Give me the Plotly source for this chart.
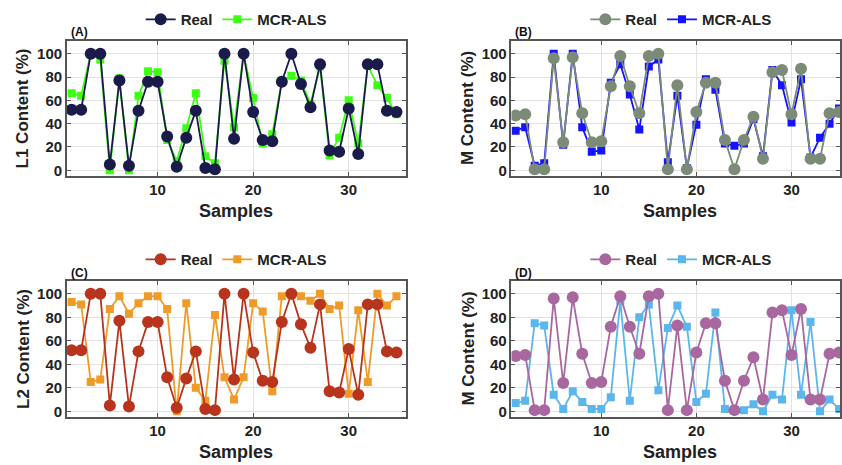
import plotly.graph_objects as go

samples = list(range(1, 36))

# Panel A / C real (L1 = L2 real values)
l_real = [52, 52, 100, 100, 5, 77, 4, 51, 76, 76, 29, 3, 28, 51, 2, 1, 100, 27, 100, 50,
          26, 25, 76, 100, 74, 54, 91, 17, 16, 53, 14, 91, 91, 51, 50]
l1_mcr = [66, 64, 100, 95, 0, 79, 0, 64, 85, 84, 26, 8, 36, 66, 12, 6, 94, 37, 100, 62,
          23, 31, 77, 81, 77, 57, 89, 13, 28, 60, 23, 90, 73, 62, 48]
l2_mcr = [93, 91, 25, 27, 87, 98, 83, 92, 98, 98, 87, 0, 92, 20, 9, 82, 29, 10, 29, 92,
          85, 17, 98, 99, 98, 94, 100, 87, 90, 15, 86, 25, 100, 90, 98]

# Panel B / D real (M values)
m_real = [47, 48, 1, 1, 96, 24, 97, 49, 24, 25, 72, 98, 72, 49, 98, 100, 1, 73, 1, 50,
          75, 75, 26, 1, 26, 46, 10, 84, 86, 48, 87, 10, 10, 49, 50]
mb_mcr = [34, 37, 4, 6, 100, 22, 100, 37, 16, 17, 75, 91, 65, 35, 89, 95, 7, 64, 2, 39,
          78, 69, 23, 21, 23, 44, 12, 86, 73, 41, 78, 11, 28, 40, 53]
md_mcr = [7, 9, 75, 73, 14, 2, 17, 8, 2, 2, 12, 94, 9, 80, 91, 18, 71, 90, 72, 8,
          15, 84, 2, 1, 1, 6, 0, 14, 10, 86, 14, 76, 0, 10, 2]

x_ticks = [10, 20, 30]
y_ticks = [0, 20, 40, 60, 80, 100]

W, H = 842, 465
FONT = "Liberation Sans"

panels = [
    # label, real, mcr, real color, mcr color, ytitle, x0,x1,y0,y1 (px), xrange
    ("(A)", l_real, l1_mcr, "#1b1b4b", "#3cff14", "L1 Content (%)", 67, 407, 41.7, 176.7, [0.5, 36.0]),
    ("(B)", m_real, mb_mcr, "#7b8b78", "#1414ff", "M Content (%)", 512.7, 842, 41.7, 176.7, [0.56, 35.1]),
    ("(C)", l_real, l2_mcr, "#b8341c", "#f09a28", "L2 Content (%)", 67, 407, 283.3, 419.3, [0.5, 36.0]),
    ("(D)", m_real, md_mcr, "#a8679f", "#5ab6ec", "M Content (%)", 512.7, 842, 283.3, 419.3, [0.56, 35.1]),
]

fig = go.Figure()
annotations = []
layout = {}
for i, (lab, real, mcr, creal, cmcr, ytitle, px0, px1, py0, py1, xr) in enumerate(panels):
    n = i + 1
    sfx = "" if n == 1 else str(n)
    xa, ya = "x" + sfx, "y" + sfx
    lg = "legend" + sfx
    fig.add_trace(go.Scatter(x=samples, y=mcr, mode="lines+markers", name="MCR-ALS",
                             xaxis=xa, yaxis=ya, legend=lg, legendrank=2,
                             line=dict(color=cmcr, width=1.8),
                             marker=dict(symbol="square", size=8, color=cmcr)))
    fig.add_trace(go.Scatter(x=samples, y=real, mode="lines+markers", name="Real",
                             xaxis=xa, yaxis=ya, legend=lg, legendrank=1,
                             line=dict(color=creal, width=1.8),
                             marker=dict(symbol="circle", size=12, color=creal)))
    dx = [px0 / W, min(px1 / W, 1.0)]
    dy = [1 - py1 / H, 1 - py0 / H]
    common = dict(showgrid=True, gridcolor="#e2e2e2", gridwidth=1,
                  showline=True, linecolor="#555555", linewidth=1.5, mirror="allticks",
                  ticks="inside", ticklen=4, tickcolor="#555555", zeroline=False,
                  tickfont=dict(family=FONT, size=15, color="#222222", weight="bold"))
    layout["xaxis" + sfx] = dict(domain=dx, anchor=ya, range=xr, tickvals=x_ticks, **common)
    layout["yaxis" + sfx] = dict(domain=dy, anchor=xa, range=[-4.5, 110.5], tickvals=y_ticks, **common)
    layout[lg] = dict(orientation="h", x=(px0 + 74) / W,
                      y=1 - (py0 - 22) / H, xanchor="left", yanchor="middle",
                      bgcolor="rgba(0,0,0,0)", itemwidth=30,
                      font=dict(family=FONT, size=15, color="#222222", weight="bold"))
    cx = (px0 + (px1 if n in (1, 3) else 850)) / 2
    annotations.append(dict(text=lab, x=(px0 + 2) / W, y=1 - (py0 - 9) / H, xref="paper", yref="paper",
                            xanchor="left", yanchor="middle", showarrow=False,
                            font=dict(family=FONT, size=12, color="#111111", weight="bold")))
    annotations.append(dict(text="Samples", x=cx / W, y=1 - (py1 + 36) / H, xref="paper", yref="paper",
                            xanchor="center", yanchor="middle", showarrow=False,
                            font=dict(family=FONT, size=18, color="#222222", weight="bold")))
    annotations.append(dict(text=ytitle, x=(px0 - 44) / W, y=1 - ((py0 + py1) / 2) / H,
                            xref="paper", yref="paper", textangle=-90,
                            xanchor="center", yanchor="middle", showarrow=False,
                            font=dict(family=FONT, size=17, color="#222222", weight="bold")))

fig.update_layout(width=W, height=H, margin=dict(l=0, r=0, t=0, b=0),
                  paper_bgcolor="white", plot_bgcolor="white",
                  annotations=annotations, **layout)
fig.write_html("out.html")
